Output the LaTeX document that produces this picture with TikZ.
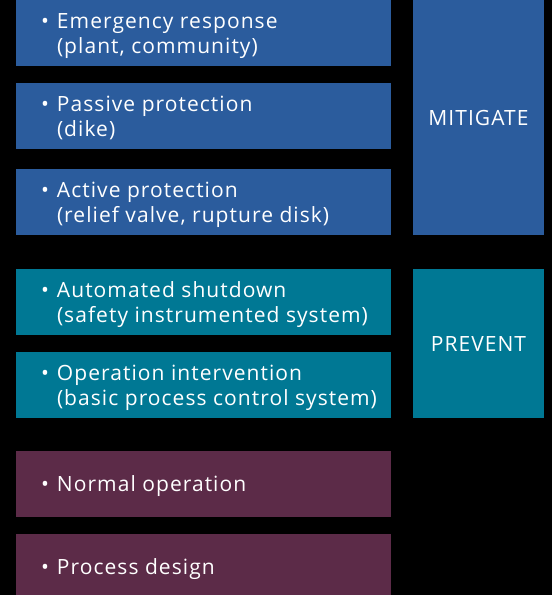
\documentclass[tikz,border=0pt]{standalone}
\usepackage{fontspec}
\setmainfont{Open Sans}[LetterSpace=5.0]
\usepackage{tikz}
\usetikzlibrary{positioning}

\definecolor{mitblue}{HTML}{2B5C9D}
\definecolor{prevteal}{HTML}{007894}
\definecolor{basepurple}{HTML}{5C2B48}

\tikzset{
    layer/.style={rectangle, inner sep=0pt, minimum width=375pt, minimum height=66pt},
    sidebox/.style={rectangle, inner sep=0pt, minimum width=131pt, text=white,
        font=\fontsize{21}{25}\selectfont},
    item/.style={anchor=base west, inner sep=0pt, align=left, text=white,
        font=\fontsize{21}{25}\selectfont, xshift=41pt},
    twoline/.style={item, yshift=-20pt},
    oneline/.style={item, yshift=-7pt}
}
\newcommand{\bul}{\llap{\textbullet\hspace{8pt}}}

\begin{document}
\begin{tikzpicture}[x=1pt, y=-1pt]
                        \useasboundingbox (0,0) rectangle (552,595);
                        \fill [black] (0,0) rectangle (552,595);
                        % left column
                        \node [layer, fill=mitblue] (emerg) at (203.5,33) {};
                        \node [layer, fill=mitblue] (passive) at (203.5,116) {};
                        \node [layer, fill=mitblue] (active) at (203.5,202) {};
                        \node [layer, fill=prevteal] (shutdown) at (203.5,302) {};
                        \node [layer, fill=prevteal] (interv) at (203.5,385) {};
                        \node [layer, fill=basepurple] (normal) at (203.5,484) {};
                        \node [layer, fill=basepurple] (design) at (203.5,567) {};
                        \node [twoline] (emergtxt) at (emerg.west) {\bul Emergency response\\(plant, community)};
                        \node [twoline] (passivetxt) at (passive.west) {\bul Passive protection\\(dike)};
                        \node [twoline] (activetxt) at (active.west) {\bul Active protection\\(relief valve, rupture disk)};
                        \node [twoline] (shutdowntxt) at (shutdown.west) {\bul Automated shutdown\\(safety instrumented system)};
                        \node [twoline] (intervtxt) at (interv.west) {\bul Operation intervention\\(basic process control system)};
                        \node [oneline] (normaltxt) at (normal.west) {\bul Normal operation};
                        \node [oneline] (designtxt) at (design.west) {\bul Process design};
                        % right column
                        \node [sidebox, fill=mitblue, minimum height=235pt] (mitigate) at (478.5,117.5) {MITIGATE};
                        \node [sidebox, fill=prevteal, minimum height=149pt] (prevent) at (478.5,343.5) {PREVENT};
                    \end{tikzpicture}
\end{document}
